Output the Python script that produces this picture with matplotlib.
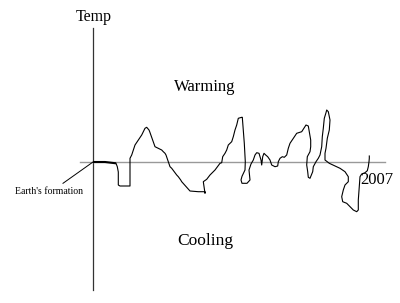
import matplotlib
matplotlib.use("Agg")
import matplotlib.pyplot as plt

# hand-drawn temperature sketch
# x: time (arbitrary, 0 = Earth's formation), y: temperature relative to baseline
time = [0, 12, 23, 24.3, 25.3, 25.3, 27, 37, 37, 38.7, 40.3, 42, 45.3, 48.7,
        52, 53.7, 56, 56.7, 62, 65.3, 68.7, 70.3, 72, 73, 77, 78.7, 83.7,
        85.3, 87.7, 88.7, 97, 105.3, 112, 112, 110.3, 113.7, 117, 122, 127,
        128.7, 129.7, 132, 133.7, 135.3, 138.7, 140.3, 142, 143.7, 145.3,
        148.7, 149.3, 150.3, 151.3, 152.3, 152, 149, 148, 149, 154, 157, 156,
        158, 160.3, 162, 163.7, 166, 168, 168.7, 169.7, 171, 172.7, 174.7,
        177, 178.7, 182, 184.7, 185.3, 187, 189.3, 191.3, 193.7, 195.3,
        197, 200.3, 203.7, 208.7, 212, 213, 215.3, 217.7, 217.7, 217, 214.3,
        213.7, 214.7, 215.3, 217, 219.7, 220.3, 223, 225.3, 227, 228.7,
        229.3, 230.3, 231.3, 233, 233.7, 235.3, 237, 236.3, 234.3, 233,
        232, 232, 236.3, 242, 247, 252, 255.3, 255.3, 252, 250.3, 248.7,
        249.7, 253.7, 257, 260.3, 263.7, 265.3, 265.3, 266.3, 267, 268.7,
        272, 274.3, 275.3, 276, 276.3, 276.3]
temp = [0, 0, -1.3, -4.7, -10, -23, -24, -24, 3.7, 7, 12, 17, 22, 27, 33.7,
        34.7, 32, 30.3, 15.3, 13.7, 12, 10.3, 8.7, 7, -4.7, -6.3, -13,
        -14.7, -18, -19.7, -29, -29.7, -29.7, -31.3, -19.7, -17.3, -13,
        -8, -1.3, -0.7, 5.3, 8.7, 12, 17, 20.3, 25.3, 32, 37, 43.7, 44.7,
        44.7, 32, 18.7, 0.3, -8, -14.3, -18, -21.3, -21.3, -18, -8, -2, 2,
        7, 9.3, 8.7, 2, -3, 5.3, 8.7, 7, 5.3, 2, -3, -4.7, -4, 0.3, 3.7,
        5.3, 4.7, 7, 13.7, 18.7, 23.7, 28.7, 30.3, 35.3, 37, 36, 22, 15.3,
        10.3, 5.3, -3, -9.7, -15.3, -16.3, -9.7, -4.7, 0.3, 3.7, 7, 15.3,
        25.3, 33.7, 43.7, 49.3, 52, 50.3, 42, 32, 23.7, 13.7, 8.7, 2, -1.3,
        -4, -6.3, -9.7, -14.7, -19.7, -23, -28, -34.7, -39.7, -41.3, -44.7,
        -48, -49.7, -48, -38, -24.7, -14.7, -12, -10.7, -8.7, -4.7, 0.3,
        3.7, 6]

fig = plt.figure(figsize=(4, 3.03), dpi=100)
ax = fig.add_axes([0, 0, 1, 1])
ax.set_xlim(-93, 307)
ax.set_ylim(-141, 162)
ax.axis("off")

# axes drawn by hand
ax.plot([0, 0], [-128, 134], color="#333333", lw=0.9)
ax.plot([-13, 292], [0, 0], color="#999999", lw=1.0)

# the curve; the first flat stretch is drawn heavier
ax.plot(time[:3], temp[:3], color="black", lw=1.5, solid_capstyle="butt")
ax.plot(time[2:], temp[2:], color="black", lw=0.8, solid_joinstyle="round")

serif = ["Liberation Serif", "DejaVu Serif"]
ax.text(1, 145, "Temp", family=serif, fontsize=11.5, ha="center", va="center")
ax.text(112, 75, "Warming", family=serif, fontsize=12, ha="center", va="center")
ax.text(112, -79, "Cooling", family=serif, fontsize=12.5, ha="center", va="center")
ax.text(284, -18, "2007", family=serif, fontsize=12, ha="center", va="center")
ax.text(-44, -29.5, "Earth's formation", family=serif, fontsize=7,
        ha="center", va="center")
ax.plot([-30, 0], [-21.3, 0], color="black", lw=0.7)

fig.savefig("out.png", dpi=100)
